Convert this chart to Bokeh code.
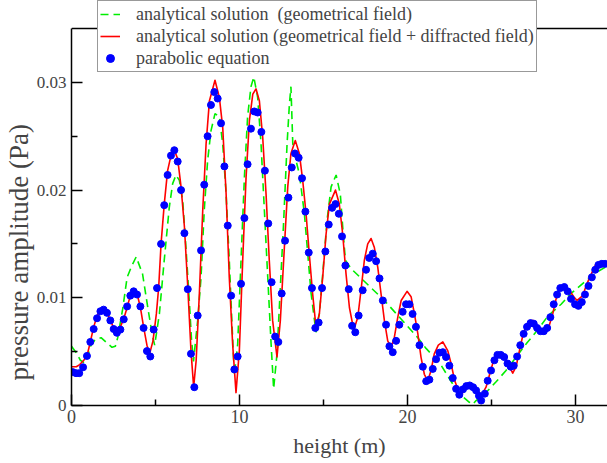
from bokeh.plotting import figure
from bokeh.models import Legend, LegendItem, FixedTicker, Range1d, Span, Title
from bokeh.embed import file_html
from bokeh.resources import INLINE

FONT = "Liberation Serif"

# ---- tick values / labels ----
x_ticks = [0, 10, 20, 30]
x_minor = [5, 15, 25]
y_ticks = [0, 0.01, 0.02, 0.03]
y_minor = [0.005, 0.015, 0.025]
y_labels = {0: "0", 0.01: "0.01", 0.02: "0.02", 0.03: "0.03"}
y_axis_top = 0.035
x_title = "height (m)"
y_title = "pressure amplitude (Pa)"
series_names = ["analytical solution  (geometrical field)",
                "analytical solution (geometrical field + diffracted field)",
                "parabolic equation"]

# ---- analytical solution (geometrical field), height m / amplitude mPa ----
geo_x = [0.0, 0.33, 0.53, 0.77, 0.97, 1.16, 1.40, 1.76, 2.11, 2.41,
         2.61, 2.75, 3.05, 3.31, 3.57, 3.85, 4.23, 4.54, 4.80, 4.95,
         5.23, 5.52, 5.82, 6.02, 6.22, 6.42, 6.62, 6.81, 7.01, 7.14,
         7.26, 7.51, 7.71, 7.90, 8.10, 8.30, 8.54, 8.80, 9.00, 9.20,
         9.39, 9.56, 9.69, 9.89, 10.09, 10.29, 10.48, 10.68, 10.85, 11.08,
         11.28, 11.48, 11.68, 11.88, 12.03, 12.23, 12.43, 12.63, 12.83, 12.97,
         13.06, 13.17, 13.37, 13.56, 13.66, 13.86, 14.06, 14.26, 14.55, 14.75,
         14.95, 15.21, 15.45, 15.75, 16.00, 16.14, 16.30, 16.64, 18.62, 20.61,
         21.10, 21.89, 22.69, 23.08, 23.68, 23.88, 24.08, 24.67, 25.27, 25.86,
         26.46, 27.10, 27.74, 28.35, 29.14, 29.73, 30.53, 31.20, 31.92]
geo_y = [5.5, 4.8, 4.2, 3.95, 4.6, 5.6, 6.1, 6.3, 5.8, 5.4,
         5.5, 6.3, 9.0, 11.9, 12.9, 13.8, 12.2, 9.1, 6.6, 5.6,
         8.5, 13.5, 18.4, 20.6, 21.4, 20.9, 19.0, 14.7, 9.75, 6.2,
         4.1, 7.9, 11.9, 18.1, 22.7, 25.5, 27.1, 26.8, 24.3, 19.7,
         13.5, 7.3, 2.8, 5.7, 13.5, 21.2, 26.8, 29.6, 30.5, 28.6,
         24.3, 18.1, 11.9, 5.7, 1.55, 4.8, 11.0, 17.2, 24.3, 28.0,
         29.6, 24.3, 22.7, 21.5, 20.3, 17.8, 14.1, 10.4, 6.8, 8.5,
         12.2, 17.2, 20.3, 21.4, 19.6, 16.6, 13.5, 12.7, 9.75, 6.3,
         5.3, 4.0, 2.0, 1.1, 0.3, 0.1, 0.46, 1.2, 2.2, 3.25,
         4.5, 5.8, 7.0, 8.3, 9.4, 10.4, 11.45, 12.3, 13.0]

# ---- analytical solution (geometrical + diffracted field) ----
tot_x = [0.0, 0.29, 0.49, 0.73, 0.92, 1.12, 1.32, 1.52, 1.72, 1.87,
         2.11, 2.31, 2.51, 2.70, 2.91, 3.11, 3.31, 3.50, 3.70, 3.90,
         4.10, 4.29, 4.49, 4.65, 4.85, 5.05, 5.19, 5.33, 5.52, 5.72,
         5.92, 6.12, 6.32, 6.52, 6.72, 6.92, 7.11, 7.27, 7.42, 7.61,
         7.81, 8.01, 8.21, 8.54, 8.80, 9.00, 9.20, 9.39, 9.59, 9.79,
         9.99, 10.19, 10.39, 10.59, 10.79, 10.98, 11.18, 11.38, 11.58, 11.77,
         11.97, 12.23, 12.43, 12.67, 12.87, 13.06, 13.32, 13.56, 13.76, 13.96,
         14.15, 14.35, 14.55, 14.75, 14.95, 15.15, 15.35, 15.71, 15.94, 16.14,
         16.34, 16.54, 16.80, 17.04, 17.23, 17.43, 17.63, 17.83, 18.02, 18.23,
         18.42, 18.62, 18.82, 19.02, 19.21, 19.42, 19.62, 19.97, 20.21, 20.41,
         20.61, 20.80, 21.00, 21.20, 21.40, 21.59, 21.83, 22.10, 22.39, 22.59,
         22.79, 22.99, 23.18, 23.48, 23.78, 24.08, 24.38, 24.67, 24.87, 25.07,
         25.27, 25.46, 25.77, 26.06, 26.26, 26.46, 26.66, 26.86, 27.06, 27.45,
         27.74, 28.05, 28.35, 28.64, 28.84, 29.04, 29.33, 29.63, 29.89, 30.09,
         30.43, 30.62, 30.93, 31.17, 31.41, 31.65, 31.9]
tot_y = [3.6, 3.6, 3.8, 4.2, 4.6, 5.9, 7.3, 8.3, 8.9, 9.0,
         8.7, 7.9, 7.2, 6.9, 7.3, 8.05, 9.1, 10.2, 10.7, 10.4,
         9.1, 7.3, 5.6, 4.8, 6.0, 8.5, 11.0, 15.0, 18.7, 21.8,
         23.2, 23.7, 22.9, 20.3, 16.6, 11.0, 5.1, 1.7, 4.2, 10.4,
         18.1, 24.3, 28.3, 30.2, 28.6, 25.8, 19.7, 11.9, 5.7, 1.2,
         5.1, 13.5, 21.2, 26.5, 28.9, 29.4, 28.3, 24.9, 19.6, 13.5,
         7.9, 4.5, 7.9, 14.7, 20.3, 23.4, 24.6, 23.4, 20.9, 17.8,
         14.1, 10.4, 7.3, 8.5, 11.9, 15.9, 18.7, 20.0, 18.7, 15.9,
         12.2, 9.1, 7.0, 8.2, 10.7, 13.5, 15.0, 15.5, 14.7, 12.8,
         10.4, 7.9, 6.0, 5.4, 6.3, 8.2, 9.75, 10.6, 10.1, 8.5,
         6.7, 4.5, 2.9, 2.3, 3.25, 4.8, 5.6, 5.9, 5.1, 3.9,
         2.4, 1.5, 0.9, 1.8, 2.0, 1.7, 0.9, 1.7, 2.8, 3.9,
         4.5, 4.8, 4.5, 3.6, 3.0, 3.6, 5.1, 6.5, 7.4, 7.9,
         7.3, 6.65, 7.0, 8.5, 9.9, 10.8, 11.05, 10.7, 10.1, 9.75,
         10.2, 11.1, 12.2, 13.0, 13.3, 13.15, 13.1]

# ---- parabolic equation ----
pe_x = [0.07, 0.27, 0.46, 0.69, 0.92, 1.12, 1.32, 1.52, 1.72, 1.91,
        2.11, 2.31, 2.51, 2.70, 2.91, 3.11, 3.31, 3.50, 3.70, 3.90,
        4.10, 4.29, 4.49, 4.69, 4.89, 5.09, 5.33, 5.52, 5.72, 5.92,
        6.12, 6.32, 6.52, 6.72, 6.92, 7.11, 7.31, 7.51, 7.71, 7.90,
        8.10, 8.30, 8.50, 8.70, 8.90, 9.10, 9.30, 9.50, 9.69, 9.89,
        10.09, 10.29, 10.48, 10.68, 10.88, 11.08, 11.30, 11.51, 11.71, 11.91,
        12.12, 12.31, 12.51, 12.71, 12.91, 13.11, 13.30, 13.52, 13.72, 13.92,
        14.12, 14.31, 14.51, 14.71, 14.91, 15.11, 15.31, 15.51, 15.71, 15.91,
        16.10, 16.30, 16.50, 16.70, 16.89, 17.09, 17.33, 17.53, 17.72, 17.93,
        18.13, 18.33, 18.53, 18.72, 18.92, 19.12, 19.32, 19.51, 19.71, 19.91,
        20.11, 20.30, 20.50, 20.71, 20.91, 21.11, 21.30, 21.50, 21.70, 21.90,
        22.10, 22.29, 22.49, 22.69, 22.89, 23.08, 23.30, 23.50, 23.70, 23.90,
        24.08, 24.25, 24.38, 24.60, 24.77, 24.97, 25.17, 25.35, 25.55, 25.75,
        25.95, 26.14, 26.32, 26.52, 26.71, 26.91, 27.11, 27.32, 27.51, 27.71,
        27.91, 28.11, 28.31, 28.50, 28.70, 28.90, 29.09, 29.33, 29.53, 29.73,
        29.97, 30.17, 30.37, 30.56, 30.77, 30.97, 31.17, 31.36, 31.56, 31.76]
pe_y = [3.1, 3.0, 3.0, 3.55, 4.6, 5.9, 7.1, 8.1, 8.75, 8.9,
        8.6, 7.9, 7.1, 6.75, 7.05, 8.0, 9.2, 10.2, 10.6, 10.3,
        9.2, 7.2, 5.05, 4.55, 7.05, 10.9, 15.0, 18.6, 21.4, 23.2,
        23.7, 22.65, 20.0, 16.0, 10.8, 4.8, 1.7, 8.35, 14.4, 20.5,
        25.0, 27.9, 29.1, 28.5, 26.2, 22.2, 16.7, 10.2, 3.35, 4.55,
        11.3, 17.4, 22.4, 25.7, 27.3, 27.2, 25.4, 21.8, 16.9, 11.45,
        6.4, 5.9, 10.4, 15.3, 19.3, 22.1, 23.4, 23.0, 21.1, 18.0,
        14.2, 10.9, 7.2, 7.7, 10.9, 14.3, 16.8, 18.35, 18.7, 17.8,
        15.7, 13.0, 10.8, 7.4, 6.8, 8.35, 10.7, 12.6, 13.7, 14.1,
        13.4, 11.8, 9.75, 7.5, 5.5, 4.95, 6.0, 7.5, 8.7, 9.4,
        9.4, 8.5, 7.3, 5.6, 3.6, 2.26, 2.4, 3.4, 4.3, 4.9,
        4.95, 4.5, 3.7, 2.55, 1.55, 1.0, 1.5, 1.8, 1.86, 1.7,
        1.4, 0.9, 0.46, 1.1, 2.3, 3.25, 4.2, 4.7, 4.7, 4.5,
        3.9, 3.6, 3.7, 4.55, 5.6, 6.65, 7.3, 7.65, 7.6, 7.2,
        6.9, 6.9, 7.2, 8.2, 9.4, 10.3, 10.9, 11.0, 10.6, 9.9,
        9.4, 9.25, 9.6, 10.3, 11.1, 11.9, 12.6, 13.05, 13.15, 13.15]

to_pa = lambda v: [a / 1000.0 for a in v]

# frame: left 71px, bottom 405px, runs to the top edge so the legend can sit
# above the axis box (drawn at y = 0.035) like the reference
p = figure(width=607, height=463, output_backend="svg", toolbar_location=None,
           x_range=Range1d(0, 31.9), y_range=Range1d(0, 0.0376),
           min_border_left=71, min_border_right=0, min_border_top=0,
           min_border_bottom=58)
p.title.visible = False
p.outline_line_color = None
p.xgrid.visible = False
p.ygrid.visible = False
p.background_fill_color = "white"
p.border_fill_color = "white"

g = p.line(geo_x, to_pa(geo_y), line_color="#00ee00", line_width=1.6, line_dash="8 5")
r = p.line(tot_x, to_pa(tot_y), line_color="#ff0000", line_width=1.6, line_join="round")
b = p.scatter(pe_x, to_pa(pe_y), size=7, fill_color="#0000ff", line_color="#0000ff")

def style(ax, ticks, minor, size):
    ax.ticker = FixedTicker(ticks=ticks, minor_ticks=minor)
    ax.axis_line_width = 1.5
    ax.major_tick_line_width = 1.5
    ax.minor_tick_line_width = 1.5
    ax.major_tick_in = 11
    ax.major_tick_out = 0
    ax.minor_tick_in = 6
    ax.minor_tick_out = 0
    ax.major_label_text_font = FONT
    ax.major_label_text_font_size = size

xa = p.xaxis[0]
ya = p.yaxis[0]
style(xa, x_ticks, x_minor, "18px")
style(ya, y_ticks, y_minor, "17px")
ya.bounds = (0, y_axis_top)
xa.major_label_standoff = 4
xa.axis_label = x_title
xa.axis_label_text_font = FONT
xa.axis_label_text_font_size = "22px"
xa.axis_label_text_font_style = "normal"
xa.axis_label_standoff = 7
ya.major_label_standoff = 5
ya.major_label_overrides = y_labels

p.add_layout(Title(text=y_title, align="left", offset=25, standoff=0,
                   text_font=FONT, text_font_size="27px",
                   text_font_style="normal"), "left")

# top edge of the axis box
p.add_layout(Span(location=y_axis_top, dimension="width", line_color="black",
                  line_width=1.5))

legend = Legend(items=[
    LegendItem(label=series_names[0], renderers=[g]),
    LegendItem(label=series_names[1], renderers=[r]),
    LegendItem(label=series_names[2], renderers=[b]),
], location=(26, 333))
legend.label_text_font = FONT
legend.label_text_font_size = "18px"
legend.glyph_width = 20
legend.glyph_height = 22
legend.label_height = 22
legend.label_standoff = 16
legend.padding = 2
legend.spacing = 0
legend.margin = 0
legend.border_line_color = "#333333"
legend.border_line_width = 1.2
legend.background_fill_color = "white"
legend.background_fill_alpha = 1.0
p.add_layout(legend)

open("out.html", "w").write(file_html(p, INLINE))
